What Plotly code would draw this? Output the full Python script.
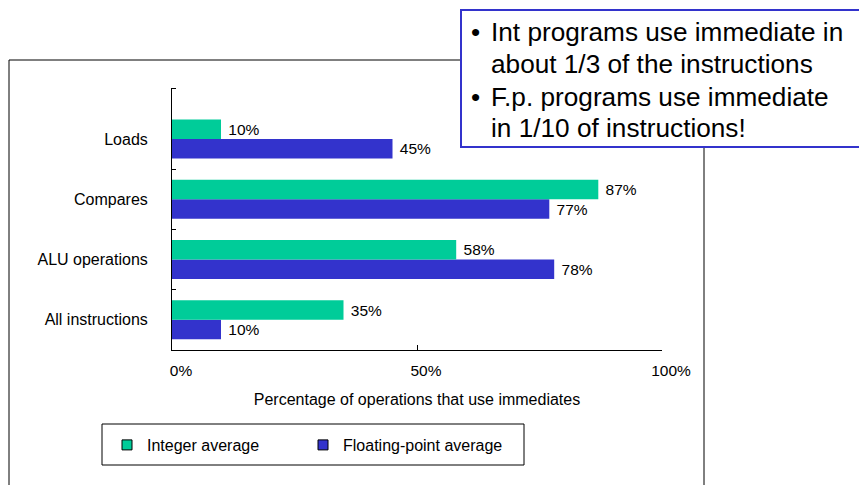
import plotly.graph_objects as go

categories = ["All instructions", "ALU operations", "Compares", "Loads"]
int_avg = [35, 58, 87, 10]
fp_avg = [10, 78, 77, 45]
x_tickvals = [0, 50, 100]
x_ticktext = ["0%", "50%", "100%"]
note_lines = ["Int programs use immediate in", "about 1/3 of the instructions",
              "F.p. programs use immediate", "in 1/10 of instructions!"]

W, H = 859, 485
L, R, T, B = 172, 662, 88, 350
FONT = "Arial, Liberation Sans, sans-serif"
GREEN = "#00CC99"
BLUE = "#3333CC"

def px(xp):
    return (xp - L) / (R - L)

def py(yp):
    return (B - yp) / (B - T)

ypos = list(range(len(categories)))

fig = go.Figure()
fig.add_trace(go.Bar(y=ypos, x=fp_avg, orientation="h", marker=dict(color=BLUE, line=dict(width=0)),
                     text=[f" {v}%" for v in fp_avg], textposition="outside", cliponaxis=False,
                     textfont=dict(size=15.5, color="black", family=FONT), showlegend=False))
fig.add_trace(go.Bar(y=ypos, x=int_avg, orientation="h", marker=dict(color=GREEN, line=dict(width=0)),
                     text=[f" {v}%" for v in int_avg], textposition="outside", cliponaxis=False,
                     textfont=dict(size=15.5, color="black", family=FONT), showlegend=False))
# legend entries
fig.add_trace(go.Scatter(x=[None], y=[None], mode="markers", name="Integer average", legend="legend",
                         marker=dict(symbol="square", size=10, color=GREEN, line=dict(color="black", width=1))))
fig.add_trace(go.Scatter(x=[None], y=[None], mode="markers", name="Floating-point average", legend="legend2",
                         marker=dict(symbol="square", size=10, color=BLUE, line=dict(color="black", width=1))))

leg_common = dict(orientation="h", yanchor="top", xanchor="left", borderwidth=0,
                  bgcolor="rgba(0,0,0,0)", font=dict(size=16), itemclick=False, itemdoubleclick=False)

fig.update_layout(
    width=W, height=H,
    margin=dict(l=L, r=W - R, t=T, b=H - B),
    paper_bgcolor="white", plot_bgcolor="white",
    font=dict(family=FONT, size=16, color="black"),
    barmode="group", bargap=0.353, bargroupgap=0,
    showlegend=True,
    legend=dict(x=px(107), y=py(428), **leg_common),
    legend2=dict(x=px(303), y=py(428), **leg_common),
    xaxis=dict(range=[0, 100], tickvals=x_tickvals, ticktext=x_ticktext, ticks="inside",
               ticklen=5, tickcolor="black", showline=True, linecolor="black", linewidth=1,
               showgrid=False, zeroline=False, tickfont=dict(size=15.5),
               ticklabelshift=9, ticklabelstandoff=6,
               title=dict(text="Percentage of operations that use immediates", font=dict(size=16), standoff=16)),
    yaxis=dict(range=[-0.5, 3.845], tickvals=ypos, ticktext=categories, ticks="",
               showline=True, linecolor="black", linewidth=1, showgrid=False, zeroline=False,
               tickfont=dict(size=16), ticklabelstandoff=20,
               minor=dict(tickvals=[-0.5, 0.5, 1.5, 2.5, 3.845], ticks="inside", ticklen=4,
                          tickcolor="black", showgrid=False)),
)

shapes = [
    dict(type="rect", xref="paper", yref="paper", x0=px(9), x1=px(704), y0=py(60), y1=py(500),
         line=dict(color="black", width=1), fillcolor="rgba(0,0,0,0)", layer="above"),
    dict(type="rect", xref="paper", yref="paper", x0=px(102), x1=px(524), y0=py(424), y1=py(465),
         line=dict(color="black", width=1), fillcolor="rgba(0,0,0,0)", layer="above"),
    dict(type="rect", xref="paper", yref="paper", x0=px(461), x1=px(900), y0=py(10), y1=py(147),
         line=dict(color=BLUE, width=2), fillcolor="white", layer="above"),
]
fig.update_layout(shapes=shapes)

line_y = [32, 64, 97, 128]
anns = []
for i, (txt, yy) in enumerate(zip(note_lines, line_y)):
    anns.append(dict(xref="paper", yref="paper", x=px(489), y=py(yy), xanchor="left", yanchor="middle",
                     text=txt, showarrow=False, font=dict(size=26.2, color="black", family=FONT)))
    if i in (0, 2):
        anns.append(dict(xref="paper", yref="paper", x=px(469), y=py(yy), xanchor="left", yanchor="middle",
                         text="•", showarrow=False, font=dict(size=26.2, color="black", family=FONT)))
fig.update_layout(annotations=anns)

fig.write_html("out.html", config={"displayModeBar": False},
               post_script="document.body.style.margin='0';document.body.style.overflow='hidden';")
